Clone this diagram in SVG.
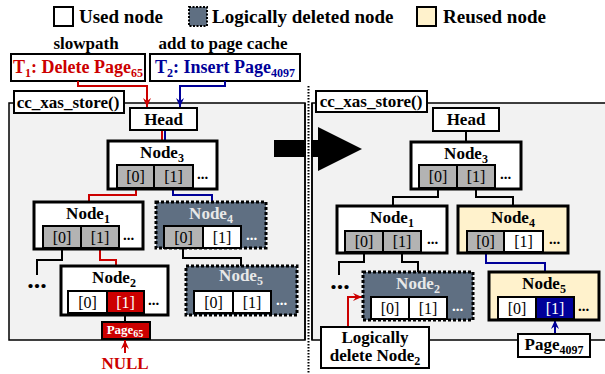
<svg xmlns="http://www.w3.org/2000/svg" width="605" height="374" viewBox="0 0 605 374" font-family="'Liberation Serif','Times New Roman',serif">
<style>
text{font-family:"Liberation Serif","Times New Roman",serif;fill:#000}
.b{font-weight:bold}
.lg{font-size:19px;font-weight:bold}
.nt{font-size:17px;font-weight:bold;text-anchor:middle}
.ct{font-size:16px;text-anchor:middle}
.dots{font-size:15px;font-weight:bold}
.bigdots{font-size:26px;font-weight:bold;text-anchor:middle}
.used{fill:#fff;stroke:#000;stroke-width:3}
.del{fill:#5f6f82;stroke:#000;stroke-width:3;stroke-dasharray:3 2}
.reu{fill:#fff2cc;stroke:#000;stroke-width:3}
.cg{fill:#b3b3b3;stroke:#000;stroke-width:2}
.cw{fill:#fff;stroke:#000;stroke-width:2}
.cr{fill:#cc0000;stroke:#000;stroke-width:2}
.cb{fill:#000099;stroke:#000;stroke-width:2}
.box{fill:#fff;stroke:#000;stroke-width:2}
.lt{fill:#e8e8e8}
.wt{fill:#fff}
.k{fill:none;stroke:#000;stroke-width:2}
.r{fill:none;stroke:#cc0000;stroke-width:2}
.bl{fill:none;stroke:#000099;stroke-width:2}
.panel{fill:#f2f2f2;stroke:#000;stroke-width:1.5}
</style>
<defs>
<marker id="ar" markerUnits="userSpaceOnUse" markerWidth="10" markerHeight="10" refX="9" refY="5" orient="auto"><path d="M0,1 L9,5 L0,9 L3,5 Z" fill="#cc0000"/></marker>
<marker id="ab" markerUnits="userSpaceOnUse" markerWidth="10" markerHeight="10" refX="9" refY="5" orient="auto"><path d="M0,1 L9,5 L0,9 L3,5 Z" fill="#000099"/></marker>
</defs>
<rect width="605" height="374" fill="#fff"/>

<g id="legend">
<rect x="54" y="7" width="19" height="19" fill="#fff" stroke="#000" stroke-width="2"/>
<text x="79" y="23" class="lg">Used node</text>
<rect x="189" y="7" width="18" height="19" fill="#5f6f82" stroke="#000" stroke-width="2" stroke-dasharray="2 1.5"/>
<text x="212" y="23" class="lg">Logically deleted node</text>
<rect x="417" y="7" width="19" height="19" fill="#fff2cc" stroke="#000" stroke-width="2"/>
<text x="443" y="23" class="lg">Reused node</text>
</g>

<g id="panels">
<rect class="panel" x="9" y="103" width="296" height="237"/>
<rect class="panel" x="312" y="103" width="300" height="237"/>
<polygon points="274,140 318,140 318,127 362,149 318,171 318,157 274,157" fill="#000"/>
<rect x="306" y="86" width="5" height="288" fill="#fff"/>
<line x1="305" y1="103" x2="305" y2="340" stroke="#000" stroke-width="1.5"/>
<line x1="312" y1="103" x2="312" y2="340" stroke="#000" stroke-width="1.5"/>
<line x1="308.5" y1="86" x2="308.5" y2="374" stroke="#000" stroke-width="2" stroke-dasharray="1.5 1.5"/>
</g>

<g id="threads">
<text x="86" y="49" class="nt">slowpath</text>
<text x="223" y="49" class="nt">add to page cache</text>
<g id="t1">
<rect class="box" x="11" y="54" width="134" height="27" stroke-width="2.5"/>
<text x="78" y="73" font-size="18" class="b" text-anchor="middle" style="fill:#cc0000">T<tspan dy="4" font-size="12">1</tspan><tspan dy="-4">: Delete Page</tspan><tspan dy="4" font-size="12">65</tspan></text>
</g>
<g id="t2">
<rect class="box" x="150" y="54" width="150" height="27" stroke-width="2.5"/>
<text x="225" y="73" font-size="18" class="b" text-anchor="middle" style="fill:#000099">T<tspan dy="4" font-size="12">2</tspan><tspan dy="-4">: Insert Page</tspan><tspan dy="4" font-size="12">4097</tspan></text>
</g>
</g>

<g id="connectors">
<polyline class="r" points="78,81 78,86 147,86 147,107" marker-end="url(#ar)"/>
<polyline class="bl" points="225,81 225,86 180,86 180,107" marker-end="url(#ab)"/>
<line class="r" x1="162" y1="130" x2="162" y2="141"/>
<line class="bl" x1="165" y1="130" x2="165" y2="141"/>
<polyline class="r" points="136,189 136,195 89,195 89,202"/>
<polyline class="bl" points="173,189 173,195 212,195 212,202"/>
<polyline class="k" points="62,248 62,260 37,260 37,275"/>
<polyline class="r" points="100,248 100,260 116,260 116,266"/>
<polyline class="k" points="183,248 183,258 241,258 241,266"/>
<line class="k" x1="125" y1="313" x2="125" y2="322"/>
<line class="r" x1="125" y1="353" x2="125" y2="340" marker-end="url(#ar)"/>
<line class="k" x1="466" y1="131" x2="466" y2="142"/>
<polyline class="k" points="438,189 438,197 393,197 393,206"/>
<polyline class="k" points="476,189 476,197 513,197 513,206"/>
<polyline class="k" points="364,252 364,262 339,262 339,275"/>
<polyline class="k" points="402,252 402,262 418,262 418,272"/>
<polyline class="bl" points="486,252 486,263 545,263 545,272"/>
<line class="bl" x1="555" y1="334" x2="555" y2="320" marker-end="url(#ab)"/>
<polyline class="r" points="348,328 348,297 362,297" marker-end="url(#ar)"/>
</g>

<g id="store-left">
<rect class="box" x="14" y="91" width="110" height="22"/>
<text x="68" y="108" class="nt">cc_xas_store()</text>
</g>
<g id="store-right">
<rect class="box" x="316" y="91" width="111" height="21"/>
<text x="371" y="107" class="nt">cc_xas_store()</text>
</g>

<g id="head-left">
<rect class="box" x="130" y="108" width="67" height="22"/>
<text x="163.5" y="125" class="nt">Head</text>
</g>
<g id="node3-left">
<rect class="used" x="108" y="141" width="109" height="48"/>
<text x="162" y="158" class="nt">Node<tspan dy="4" font-size="12">3</tspan></text>
<rect class="cg" x="117" y="165" width="37" height="23"/><text x="135.5" y="182" class="ct">[0]</text>
<rect class="cg" x="154" y="165" width="39" height="23"/><text x="173.5" y="182" class="ct">[1]</text>
<text x="197" y="179" class="dots">...</text>
</g>
<g id="node1-left">
<rect class="used" x="34" y="202" width="109" height="47"/>
<text x="88" y="219" class="nt">Node<tspan dy="4" font-size="12">1</tspan></text>
<rect class="cg" x="43" y="226" width="38" height="22"/><text x="62" y="243" class="ct">[0]</text>
<rect class="cg" x="81" y="226" width="38" height="22"/><text x="100" y="243" class="ct">[1]</text>
<text x="123" y="240" class="dots">...</text>
</g>
<g id="node4-left">
<rect class="del" x="156" y="202" width="110" height="46"/>
<text x="211" y="219" class="nt lt">Node<tspan dy="4" font-size="12">4</tspan></text>
<rect class="cg" x="164" y="226" width="39" height="22"/><text x="183.5" y="243" class="ct">[0]</text>
<rect class="cw" x="203" y="226" width="38" height="22"/><text x="222" y="243" class="ct">[1]</text>
<text x="246" y="240" class="dots wt">...</text>
</g>
<g id="dots-left">
<text x="37" y="288" class="bigdots">...</text>
</g>
<g id="node2-left">
<rect class="used" x="61" y="266" width="107" height="49"/>
<text x="114" y="283" class="nt">Node<tspan dy="4" font-size="12">2</tspan></text>
<rect class="cw" x="68" y="291" width="39" height="22"/><text x="87.5" y="308" class="ct">[0]</text>
<rect class="cr" x="107" y="291" width="37" height="22"/><text x="125.5" y="308" class="ct wt">[1]</text>
<text x="148" y="305" class="dots">...</text>
</g>
<g id="node5-left">
<rect class="del" x="186" y="266" width="111" height="49"/>
<text x="241" y="281" class="nt lt">Node<tspan dy="4" font-size="12">5</tspan></text>
<rect class="cw" x="194" y="291" width="39" height="22"/><text x="213.5" y="308" class="ct">[0]</text>
<rect class="cw" x="233" y="291" width="38" height="22"/><text x="252" y="308" class="ct">[1]</text>
<text x="276" y="305" class="dots wt">...</text>
</g>
<g id="page65">
<rect class="cr" x="102" y="322" width="48" height="17"/>
<text x="125" y="334" font-size="13" class="b wt" text-anchor="middle">Page<tspan dy="3" font-size="10">65</tspan></text>
</g>
<g id="null">
<text x="125" y="369" class="nt" style="fill:#cc0000">NULL</text>
</g>

<g id="head-right">
<rect class="box" x="433" y="108" width="66" height="23"/>
<text x="466" y="125" class="nt">Head</text>
</g>
<g id="node3-right">
<rect class="used" x="411" y="142" width="110" height="47"/>
<text x="466" y="159" class="nt">Node<tspan dy="4" font-size="12">3</tspan></text>
<rect class="cg" x="419" y="165" width="38" height="23"/><text x="438" y="182" class="ct">[0]</text>
<rect class="cg" x="457" y="165" width="38" height="23"/><text x="476" y="182" class="ct">[1]</text>
<text x="500" y="179" class="dots">...</text>
</g>
<g id="node1-right">
<rect class="used" x="337" y="206" width="110" height="47"/>
<text x="392" y="223" class="nt">Node<tspan dy="4" font-size="12">1</tspan></text>
<rect class="cg" x="345" y="231" width="38" height="21"/><text x="364" y="247" class="ct">[0]</text>
<rect class="cg" x="383" y="231" width="38" height="21"/><text x="402" y="247" class="ct">[1]</text>
<text x="427" y="244" class="dots">...</text>
</g>
<g id="node4-right">
<rect class="reu" x="458" y="206" width="110" height="47"/>
<text x="513" y="223" class="nt">Node<tspan dy="4" font-size="12">4</tspan></text>
<rect class="cg" x="467" y="231" width="37" height="21"/><text x="485.5" y="247" class="ct">[0]</text>
<rect class="cw" x="504" y="231" width="39" height="21"/><text x="523.5" y="247" class="ct">[1]</text>
<text x="549" y="244" class="dots">...</text>
</g>
<g id="dots-right">
<text x="340" y="289" class="bigdots">...</text>
</g>
<g id="node2-right">
<rect class="del" x="363" y="272" width="110" height="48"/>
<text x="418" y="289" class="nt lt">Node<tspan dy="4" font-size="12">2</tspan></text>
<rect class="cw" x="371" y="297" width="38" height="22"/><text x="390" y="314" class="ct">[0]</text>
<rect class="cw" x="409" y="297" width="38" height="22"/><text x="428" y="314" class="ct">[1]</text>
<text x="452" y="311" class="dots wt">...</text>
</g>
<g id="node5-right">
<rect class="reu" x="489" y="272" width="110" height="48"/>
<text x="544" y="289" class="nt">Node<tspan dy="4" font-size="12">5</tspan></text>
<rect class="cw" x="498" y="297" width="38" height="22"/><text x="517" y="314" class="ct">[0]</text>
<rect class="cb" x="536" y="297" width="38" height="22"/><text x="555" y="314" class="ct wt">[1]</text>
<text x="578" y="311" class="dots">...</text>
</g>
<g id="page4097">
<rect class="box" x="518" y="334" width="72" height="23"/>
<text x="554" y="350" class="nt">Page<tspan dy="4" font-size="12">4097</tspan></text>
</g>
<g id="logically-delete">
<rect class="box" x="321" y="327" width="108" height="41"/>
<text x="375" y="343" class="nt">Logically</text>
<text x="375" y="361" class="nt">delete Node<tspan dy="4" font-size="12">2</tspan></text>
</g>
</svg>
